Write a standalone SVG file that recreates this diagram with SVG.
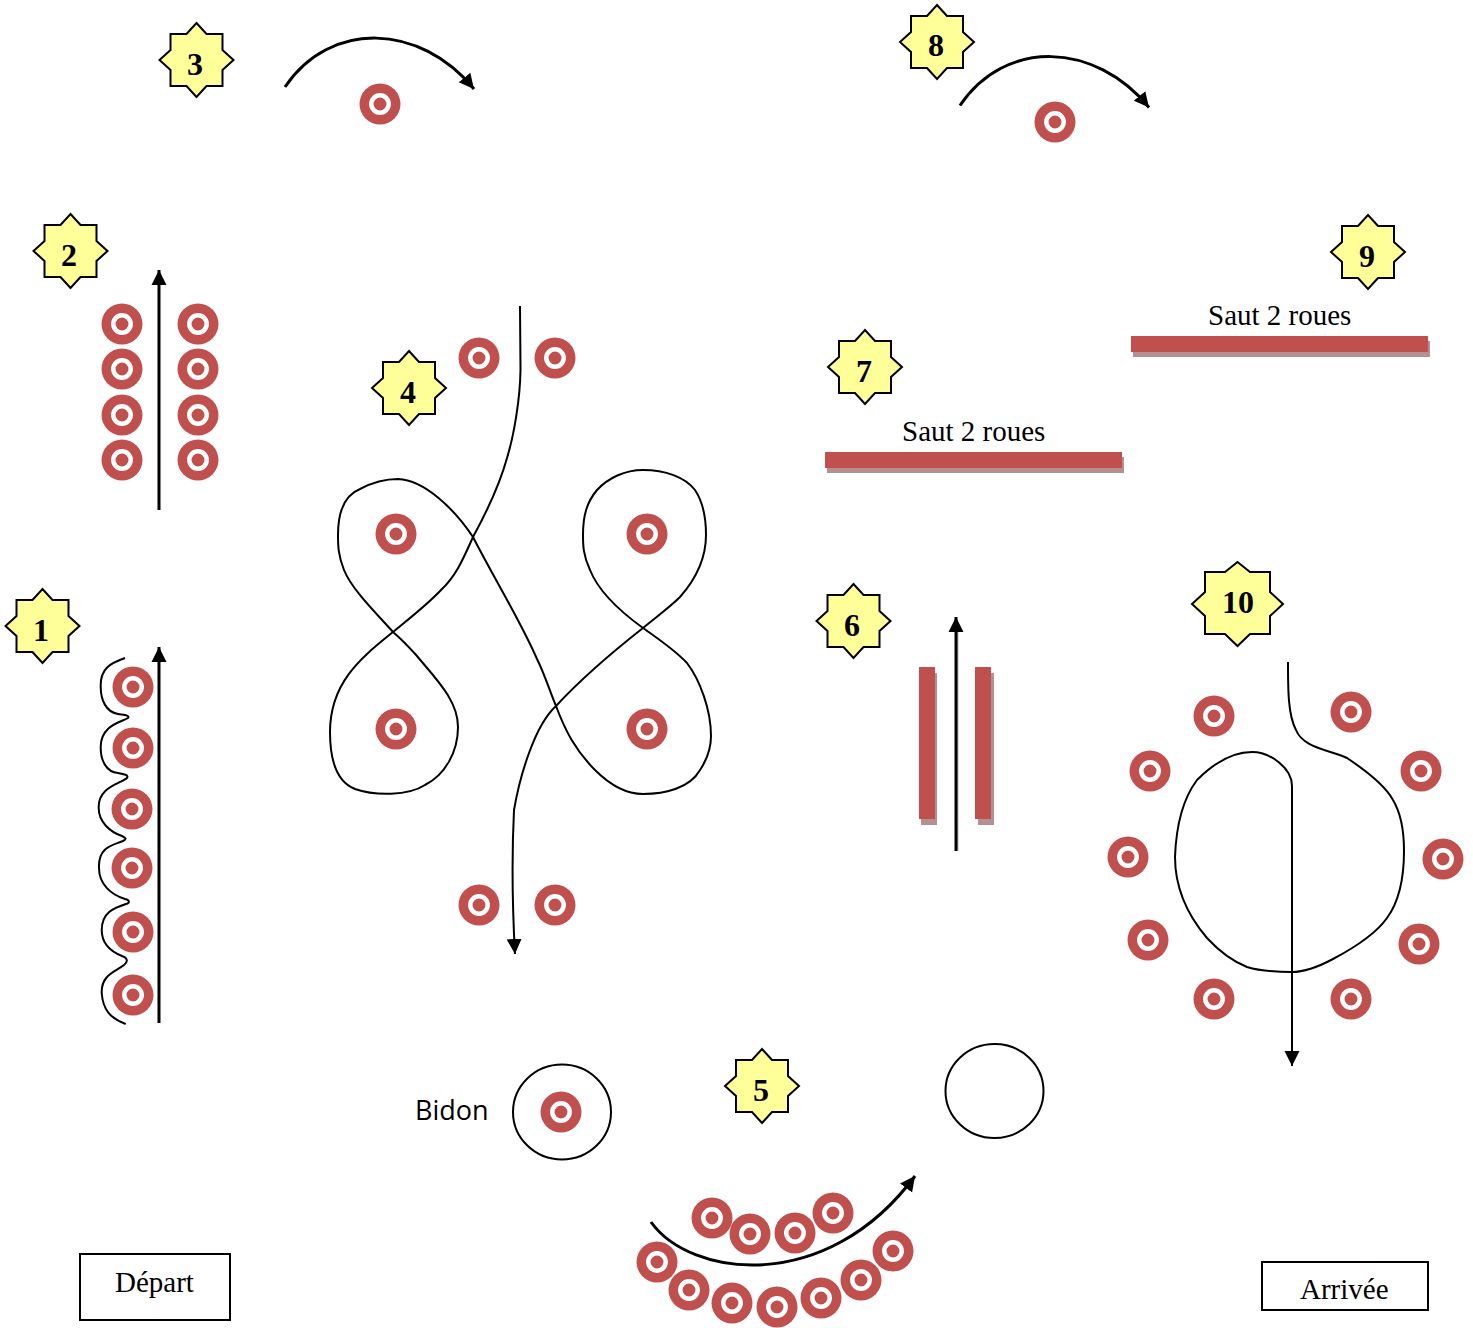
<svg xmlns="http://www.w3.org/2000/svg" xmlns:xlink="http://www.w3.org/1999/xlink" width="1473" height="1328" viewBox="0 0 1473 1328">
<style>
.line{fill:none;stroke:#000;stroke-width:2}
.thick{fill:none;stroke:#000;stroke-width:3}
.arr{marker-end:url(#arrow)}
.thin{fill:none;stroke:#000;stroke-width:2}
.star{fill:#ffff99;stroke:#000;stroke-width:2}
.num{font-family:"Liberation Serif",serif;font-weight:bold;font-size:32px;text-anchor:middle;fill:#000}
.lbl{font-family:"Liberation Serif",serif;font-size:29px;fill:#000}
.bar{fill:#c0504d}
.shadow{fill:#b39092}
.box{fill:#fff;stroke:#000;stroke-width:2}
</style>
<defs>
<marker id="arrow" markerUnits="userSpaceOnUse" markerWidth="16" markerHeight="16" viewBox="0 0 16 16" refX="15" refY="8" orient="auto"><path d="M0 0.5L15 8L0 15.5Z" fill="#000"/></marker>
<g id="t"><circle r="20.5" fill="#c0504d"/><circle r="8.7" fill="none" stroke="#fff" stroke-width="4.5"/></g>
<polygon id="s" class="star" points="0,-37 10,-26 26,-26 26,-10 37,0 26,10 26,26 10,26 0,37 -10,26 -26,26 -26,10 -37,0 -26,-10 -26,-26 -10,-26"/>
</defs>
<rect width="1473" height="1328" fill="#fff"/>

<g id="connectors">
<path class="line" d="M125 658C111 663 100 668 100.700 687C100.700 700 106 712 118 714C124 715 130 715 128 718C122 722 100 725 100.700 748C100.700 760 106 772 118 773C124 774 129 775 127 778C120 784 98 787 98.700 808C98.700 822 110 832 122 836C126 838 127 839 123 841C114 845 98 846 99 868C99 885 112 895 125 899C130 900 130 903 126 904C114 908 102 912 101.700 930C101.700 945 112 952 122 956C128 958 128 962 124 965C115 972 101 975 101.700 993C103 1010 110 1018 125.700 1024"/>
<path class="thick arr" d="M159 1023V647"/>
<path class="thick arr" d="M159 510V270"/>
<path class="thick arr" d="M285 87C330 20 420 23 474 89"/>
<path class="thick arr" d="M960 105.500C1005 38.500 1095 41.500 1149 107.500"/>
<path class="line arr" d="M520 306L520.500 370C520 400 514 435 507 458C499 487 485 515 473 537C462 562 455 577 441 590C428 604 410 618 393 632C365 655 330 680 330 732C330 760 337 782 355 789C375 796 408 796 425 785C445 775 458 752 458 727C458 700 435 678 417 656C408 646 400 638 393 632C378 615 352 590 344 570C338 555 338 545 338 535C338 510 345 495 360 489C375 481 388 479 398 479C425 480 455 510 473 537C495 580 520 620 537 659C545 675 550 692 556 706C565 730 575 750 595 770C610 785 625 794 643 794C665 794 690 788 700 770C708 758 711 748 711 736C711 710 700 680 687 663C675 650 660 640 643 628C625 615 600 595 590 570C583 555 583 545 583 535C583 515 587 502 597 490C608 478 625 470 643 470C665 470 685 477 695 490C703 502 706 520 706 535C706 560 695 580 680 597C670 607 655 618 643 628C615 650 580 680 556 706C535 725 520 775 514 810C512 850 512 900 515 954"/>
<path class="thick arr" d="M651 1222C690 1277 826 1296 915 1176"/>
<path fill="none" stroke="#b0b0b0" stroke-width="3" d="M957 851V630"/>
<path class="thick arr" d="M956 851V617"/>
<path class="line arr" d="M1288 662C1288 690 1288 715 1296 730C1303 748 1330 750 1347 758C1365 770 1385 785 1393 800C1402 815 1404 835 1404 851C1404 880 1398 903 1387 918C1375 935 1350 950 1333 959C1318 967 1305 972 1292 972C1275 972 1260 971 1247 967C1232 961 1218 950 1207 938C1190 918 1175 890 1175 857C1176 830 1182 800 1197 780C1212 765 1232 752 1252 752C1270 752 1292 768 1292 786V1066"/>
</g>

<g id="targets-1"><use href="#t" x="133" y="687"/><use href="#t" x="133" y="748"/><use href="#t" x="132" y="809"/><use href="#t" x="132" y="868"/><use href="#t" x="133" y="932"/><use href="#t" x="133" y="995"/></g>
<g id="targets-2"><use href="#t" x="122" y="324"/><use href="#t" x="122" y="369"/><use href="#t" x="122" y="415"/><use href="#t" x="122" y="460"/><use href="#t" x="198" y="324"/><use href="#t" x="198" y="369"/><use href="#t" x="198" y="415"/><use href="#t" x="198" y="460"/></g>
<g id="targets-3"><use href="#t" x="380" y="104"/></g>
<g id="targets-8"><use href="#t" x="1055" y="122"/></g>
<g id="targets-4"><use href="#t" x="479" y="358"/><use href="#t" x="555" y="358"/><use href="#t" x="396" y="534"/><use href="#t" x="647" y="534"/><use href="#t" x="396" y="729"/><use href="#t" x="647" y="729"/><use href="#t" x="479" y="905"/><use href="#t" x="555" y="905"/></g>
<g id="targets-5"><use href="#t" x="712" y="1218"/><use href="#t" x="750" y="1234"/><use href="#t" x="795" y="1233"/><use href="#t" x="833" y="1213"/><use href="#t" x="657" y="1262"/><use href="#t" x="689" y="1290"/><use href="#t" x="732" y="1303"/><use href="#t" x="777" y="1307"/><use href="#t" x="821" y="1298"/><use href="#t" x="861" y="1280"/><use href="#t" x="893" y="1251"/></g>
<g id="targets-10"><use href="#t" x="1214" y="716"/><use href="#t" x="1351" y="712"/><use href="#t" x="1150" y="771"/><use href="#t" x="1421" y="771"/><use href="#t" x="1128" y="857"/><use href="#t" x="1443" y="859"/><use href="#t" x="1148" y="940"/><use href="#t" x="1419" y="944"/><use href="#t" x="1214" y="999"/><use href="#t" x="1351" y="999"/></g>

<g id="bidon"><ellipse class="thin" cx="562" cy="1112" rx="49" ry="47.500"/><use href="#t" x="561" y="1112"/><text x="415" y="1120" font-family="'Open Sans',sans-serif" font-size="27">Bidon</text></g>
<g id="cercle"><ellipse class="thin" cx="994.500" cy="1091" rx="49" ry="47"/></g>

<g id="saut-7"><rect class="shadow" x="827" y="457" width="297" height="16"/><rect class="bar" x="825" y="452" width="297" height="16"/><text class="lbl" x="902" y="441">Saut 2 roues</text></g>
<g id="saut-9"><rect class="shadow" x="1133" y="341" width="297" height="16"/><rect class="bar" x="1131" y="336" width="297" height="16"/><text class="lbl" x="1208" y="325">Saut 2 roues</text></g>
<g id="barres-6"><rect class="shadow" x="921" y="673" width="16" height="152"/><rect class="bar" x="919" y="667" width="16" height="152"/><rect class="shadow" x="978" y="673" width="16" height="152"/><rect class="bar" x="975" y="667" width="16" height="152"/></g>

<g id="star-1"><use href="#s" x="42.500" y="626"/><text class="num" x="41" y="641">1</text></g>
<g id="star-2"><use href="#s" x="70.500" y="251"/><text class="num" x="69" y="266">2</text></g>
<g id="star-3"><use href="#s" x="196.500" y="60"/><text class="num" x="195" y="75">3</text></g>
<g id="star-4"><use href="#s" x="409" y="388"/><text class="num" x="408" y="403">4</text></g>
<g id="star-5"><use href="#s" x="762" y="1086"/><text class="num" x="761" y="1101">5</text></g>
<g id="star-6"><use href="#s" x="853.500" y="621"/><text class="num" x="852" y="636">6</text></g>
<g id="star-7"><use href="#s" x="865" y="367"/><text class="num" x="864" y="382">7</text></g>
<g id="star-8"><use href="#s" x="937" y="42"/><text class="num" x="936" y="56">8</text></g>
<g id="star-9"><use href="#s" x="1368" y="252"/><text class="num" x="1367" y="267">9</text></g>
<g id="star-10"><polygon class="star" points="1237.500,562 1250,572 1270,572 1270,592 1283,604 1270,616 1270,634 1250,634 1237.500,646 1225,634 1205,634 1205,616 1192,604 1205,592 1205,572 1225,572"/><text class="num" x="1238" y="613">10</text></g>

<g id="depart"><rect class="box" x="80" y="1254" width="150" height="66"/><text class="lbl" x="115" y="1292">Départ</text></g>
<g id="arrivee"><rect class="box" x="1262" y="1262" width="166" height="48"/><text class="lbl" x="1300" y="1299">Arrivée</text></g>
</svg>
